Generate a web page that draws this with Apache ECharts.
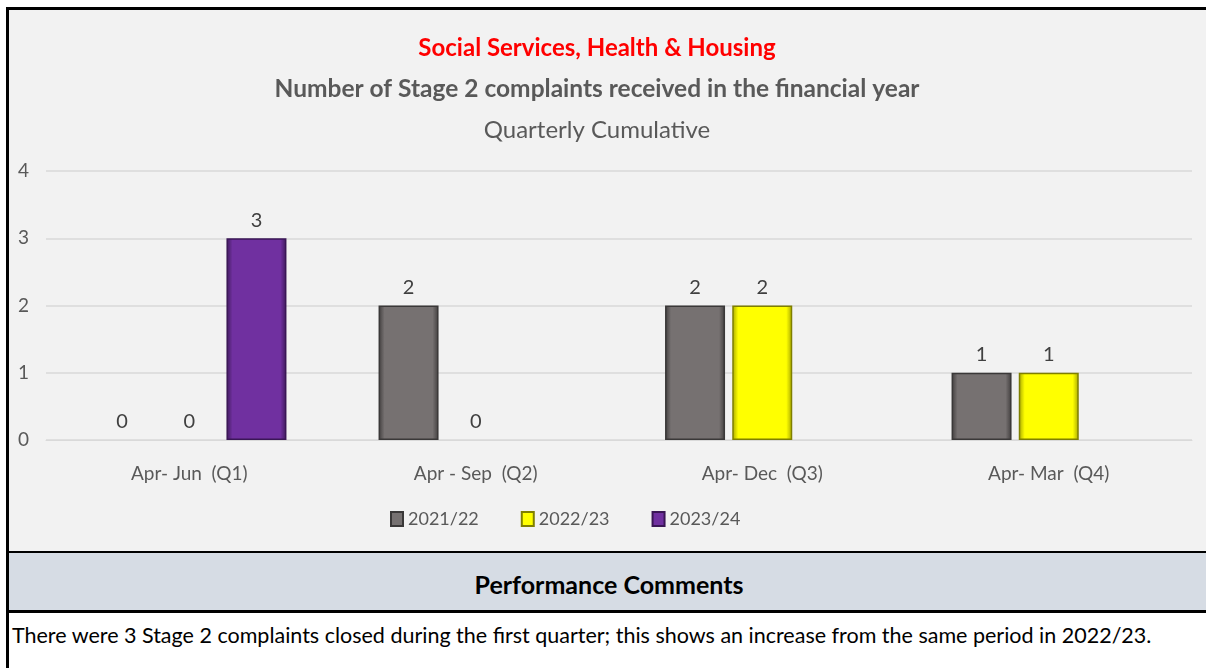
<!DOCTYPE html>
<html>
<head>
<meta charset="utf-8">
<script src="https://cdn.jsdelivr.net/npm/echarts@6/dist/echarts.min.js"></script>
<style>
  html, body { margin: 0; padding: 0; background: #ffffff; overflow: hidden; }
  body { width: 1206px; height: 668px; position: relative; font-family: Lato, "Open Sans", sans-serif; }
  .frame { position: absolute; left: 6px; top: 7px; width: 1220px; height: 700px; border: 3px solid #000; box-sizing: border-box; }
  #chart { position: absolute; left: 9px; top: 10px; width: 1197px; height: 541px; background: #f2f2f2; }
  .head { position: absolute; left: 9px; top: 551px; width: 1200px; height: 62px; background: #d6dce4;
          border-top: 2px solid #000; border-bottom: 3px solid #000; box-sizing: border-box;
          font-weight: 700; font-size: 25px; color: #000; text-align: center; line-height: 62px; }
  .comment { position: absolute; left: 12px; top: 622px; font-size: 21.5px; color: #000; white-space: nowrap; }
</style>
</head>
<body>
<div class="frame"></div>
<div id="chart"></div>
<div class="head">Performance Comments</div>
<div class="comment">There were 3 Stage 2 complaints closed during the first quarter; this shows an increase from the same period in 2022/23.</div>
<script>
const quarters = ["Apr- Jun  (Q1)", "Apr - Sep  (Q2)", "Apr- Dec  (Q3)", "Apr- Mar  (Q4)"];
const fy2122 = [0, 2, 2, 1];
const fy2223 = [0, 0, 2, 1];
const fy2324 = [3, null, null, null];
const yTicks = [0, 1, 2, 3, 4];

const textGray = "#595959";
const font = "Lato, 'Open Sans', sans-serif";

function bevel(base, dark, edge) {
  return {
    color: {
      type: "linear", x: 0, y: 0, x2: 1, y2: 0,
      colorStops: [
        { offset: 0, color: dark },
        { offset: 0.1, color: base },
        { offset: 0.9, color: base },
        { offset: 1, color: dark }
      ]
    },
    borderColor: edge,
    borderWidth: 1.5
  };
}

// zero-height bars get no outline so only their "0" label shows
function barData(values) {
  return values.map(v => (v === 0 ? { value: 0, itemStyle: { borderWidth: 0 } } : v));
}

function barSeries(name, values, style) {
  return {
    name,
    type: "bar",
    data: barData(values),
    barWidth: 60,
    barGap: "12%",
    itemStyle: style,
    label: { show: true, position: "top", distance: 8, color: "#404040", fontSize: 20, fontFamily: font }
  };
}

const chart = echarts.init(document.getElementById("chart"));
chart.setOption({
  animation: false,
  backgroundColor: "#f2f2f2",
  title: [
    { text: "Social Services, Health & Housing", left: 583, top: 21, textAlign: "center",
      textStyle: { color: "#ff0000", fontSize: 24, fontWeight: 700, fontFamily: font } },
    { text: "Number of Stage 2 complaints received in the financial year", left: 583, top: 62, textAlign: "center",
      textStyle: { color: textGray, fontSize: 24.5, fontWeight: 700, fontFamily: font } },
    { text: "Quarterly Cumulative", left: 583, top: 103, textAlign: "center",
      textStyle: { color: textGray, fontSize: 24, fontWeight: 400, fontFamily: font } }
  ],
  legend: {
    left: 381, top: 500, padding: 0,
    itemWidth: 12, itemHeight: 14, itemGap: 42,
    icon: "rect",
    textStyle: { color: textGray, fontSize: 18, fontFamily: font }
  },
  grid: { left: 37, right: 14, top: 161, bottom: 111 },
  xAxis: {
    type: "category",
    data: quarters,
    axisLine: { show: true, lineStyle: { color: "#d9d9d9" } },
    axisTick: { show: false },
    axisLabel: { color: textGray, fontSize: 19, fontFamily: font, margin: 24 }
  },
  yAxis: {
    type: "value",
    min: yTicks[0],
    max: yTicks[yTicks.length - 1],
    interval: 1,
    axisLine: { show: false },
    axisTick: { show: false },
    axisLabel: { color: textGray, fontSize: 19, fontFamily: font, margin: 20, align: "left",
                 padding: [0, 0, 0, -8] },
    splitLine: { lineStyle: { color: "#d9d9d9", width: 1.5 } }
  },
  series: [
    barSeries("2021/22", fy2122, bevel("#767171", "#403d3d", "#3a3838")),
    barSeries("2022/23", fy2223, bevel("#ffff00", "#a6a600", "#7f7f00")),
    barSeries("2023/24", fy2324, bevel("#7030a0", "#3e1a59", "#3a1656"))
  ]
});
</script>
</body>
</html>
